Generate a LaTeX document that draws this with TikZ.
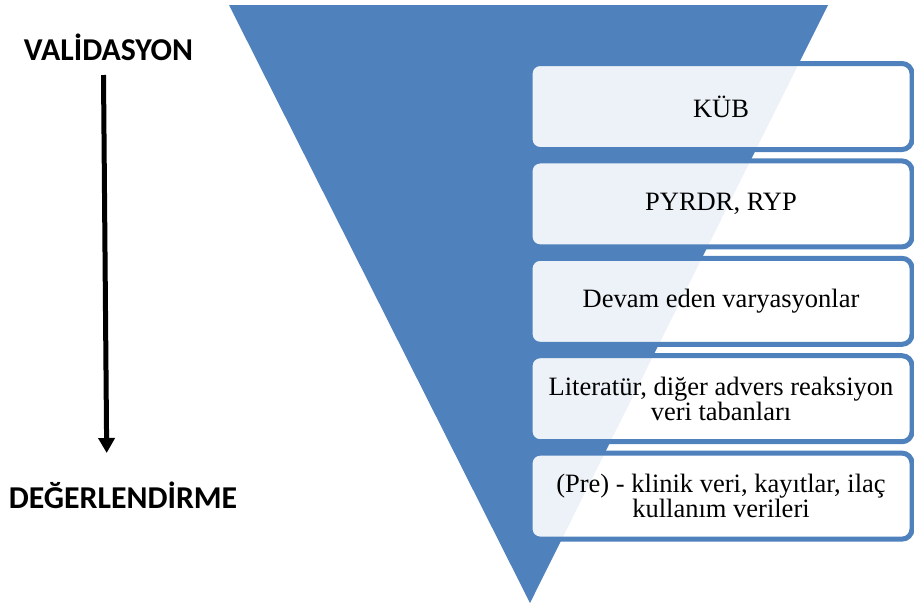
\documentclass[tikz,border=0pt]{standalone}
\usepackage{fontspec}
\setmainfont{Liberation Serif}
\newfontfamily\labelfont{Carlito}
\usetikzlibrary{arrows.meta}
\definecolor{funnelblue}{RGB}{79,129,189}

\begin{document}
\begin{tikzpicture}[x=0.5pt, y=-0.5pt]
  \tikzset{
    source/.style={draw=funnelblue, line width=2.5pt, rounded corners=5pt, fill=white, fill opacity=0.9, text opacity=1,
      minimum width=191pt, minimum height=43pt, align=center, font=\fontsize{13.25}{12.6}\selectfont},
    sidelabel/.style={font=\labelfont\bfseries\fontsize{15.9}{19}\selectfont}
  }
  \useasboundingbox (0,0) rectangle (914,606);

  % Funnel
  \fill[funnelblue] (229,5) -- (828,5) -- (530,603) -- cycle;

  % Data sources, top to bottom
  \node[source] (kub)       at (721,106.5) {KÜB};
  \node[source] (pyrdr)     at (721,203.9) {PYRDR, RYP};
  \node[source] (devam)     at (721,301.3) {Devam eden varyasyonlar};
  \node[source] (literatur) at (721,398.7) {Literatür, diğer advers reaksiyon\\veri tabanları};
  \node[source] (klinik)    at (721,496.1) {(Pre) - klinik veri, kayıtlar, ilaç\\kullanım verileri};

  % Left side: direction
  \node[sidelabel] (valid) at (108.5,47.5) {VALİDASYON};
  \node[sidelabel] (degerlendirme) at (123,495) {DEĞERLENDİRME};

  \coordinate (arrowtop) at (103.5,75);
  \coordinate (arrowtip) at (106.7,453);
  \draw[-{Triangle[length=7.5pt,width=8pt]}, line width=2.5pt] (arrowtop) -- (arrowtip);
\end{tikzpicture}
\end{document}
